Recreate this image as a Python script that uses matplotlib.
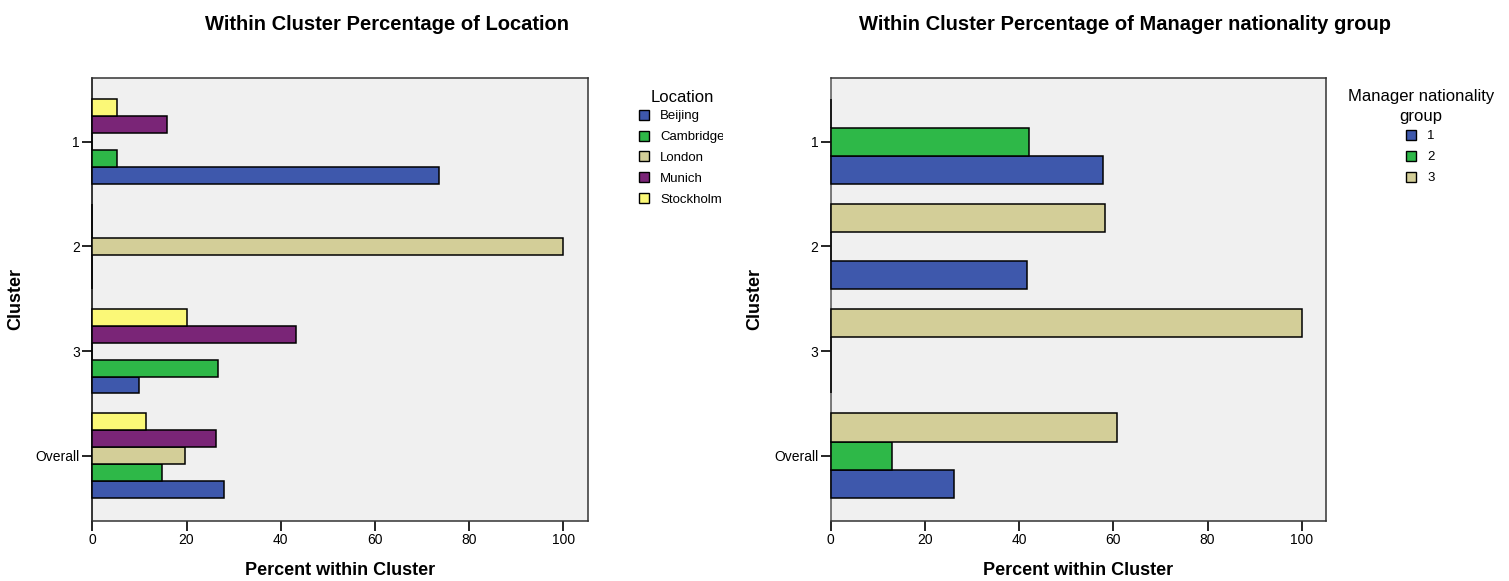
import numpy as np
import matplotlib
matplotlib.use("Agg")
import matplotlib.pyplot as plt
from matplotlib.patches import Rectangle
from matplotlib.transforms import Bbox

plt.rcParams["font.family"] = ["Liberation Sans", "DejaVu Sans"]

# ---- data -------------------------------------------------------------
clusters = ["1", "2", "3", "Overall"]

locations = ["Beijing", "Cambridge", "London", "Munich", "Stockholm"]
loc_colors = ["#3E58AC", "#2EB848", "#D3CE98", "#7A2577", "#FBF877"]
loc_beijing = [73.7, 0.0, 10.0, 27.9]
loc_cambridge = [5.3, 0.0, 26.7, 14.8]
loc_london = [0.0, 100.0, 0.0, 19.7]
loc_munich = [15.8, 0.0, 43.3, 26.2]
loc_stockholm = [5.3, 0.0, 20.0, 11.5]

groups = ["1", "2", "3"]
grp_colors = ["#3E58AC", "#2EB848", "#D3CE98"]
grp_1 = [57.9, 41.7, 0.0, 26.2]
grp_2 = [42.1, 0.0, 0.0, 13.1]
grp_3 = [0.0, 58.3, 100.0, 60.7]

xticks = [0, 20, 40, 60, 80, 100]

W, H = 1509, 581
fig = plt.figure(figsize=(W / 100, H / 100), dpi=100)
fig.patch.set_facecolor("white")


def fx(px):
    return px / W


def fy(py):
    return 1 - py / H


def panel(left_px, series, colors, left_spine, group_span=0.81):
    ax = fig.add_axes([fx(left_px), fy(521), fx(495.5), 443.5 / H])
    ax.set_facecolor("#F0F0F0")
    n = len(series)
    h = group_span / n
    ypos = np.arange(len(clusters))
    # first series sits at the bottom of each group, last at the top
    for i, (vals, col) in enumerate(zip(series, colors)):
        off = (n - 1) / 2 * h - i * h
        ax.barh(ypos + off, vals, height=h, color=col,
                edgecolor="black", linewidth=1.1, zorder=3, clip_on=False)
    ax.set_xlim(0, 105.2)
    ax.set_ylim(3.623, -0.613)
    ax.set_yticks(ypos)
    ax.set_yticklabels(clusters)
    ax.set_xticks(xticks)
    ax.tick_params(axis="both", direction="out", length=7, width=1.2,
                   color="black", labelsize=10, pad=2)
    for s in ax.spines.values():
        s.set_color("#333333")
        s.set_linewidth(1.1)
    ax.spines["left"].set_color(left_spine)
    ax.set_xlabel("Percent within Cluster", fontsize=13, fontweight="bold")
    ax.xaxis.set_label_coords(0.5, -0.092)
    ax.set_ylabel("Cluster", fontsize=13, fontweight="bold")
    ax.yaxis.set_label_coords(-0.137, 0.5)
    return ax


def legend(title_lines, title_cx, title_y, labels, colors, box_x, text_x,
           first_y, step, clip_px=None):
    for k, line in enumerate(title_lines):
        fig.text(fx(title_cx), fy(title_y + k * 20), line, fontsize=12,
                 ha="center", va="center")
    for k, (lab, col) in enumerate(zip(labels, colors)):
        y = first_y + k * step
        fig.patches.append(Rectangle((fx(box_x), fy(y + 5)), fx(10), 10 / H,
                                     transform=fig.transFigure,
                                     facecolor=col, edgecolor="black",
                                     linewidth=1.0, figure=fig))
        t = fig.text(fx(text_x), fy(y + 4.5), lab, fontsize=9.5,
                     ha="left", va="baseline")
        if clip_px is not None:
            t.set_clip_box(Bbox([[0, 0], [clip_px, H]]))
            t.set_clip_on(True)


# ---- left panel: Location ---------------------------------------------
panel(92.3, [loc_beijing, loc_cambridge, loc_london, loc_munich,
             loc_stockholm], loc_colors, "black")
fig.text(fx(387), fy(25), "Within Cluster Percentage of Location",
         fontsize=14.5, fontweight="bold", ha="center", va="center")
legend(["Location"], 682, 97, locations, loc_colors, 639, 660, 114.5,
       21, clip_px=723)

# ---- right panel: Manager nationality group -----------------------------
panel(830.7, [grp_1, grp_2, grp_3], grp_colors, "#555555")
fig.text(fx(1125), fy(25),
         "Within Cluster Percentage of Manager nationality group",
         fontsize=14.5, fontweight="bold", ha="center", va="center")
legend(["Manager nationality", "group"], 1421, 97, groups, grp_colors,
       1406, 1427, 134.5, 21)

fig.savefig("out.png", dpi=100)
